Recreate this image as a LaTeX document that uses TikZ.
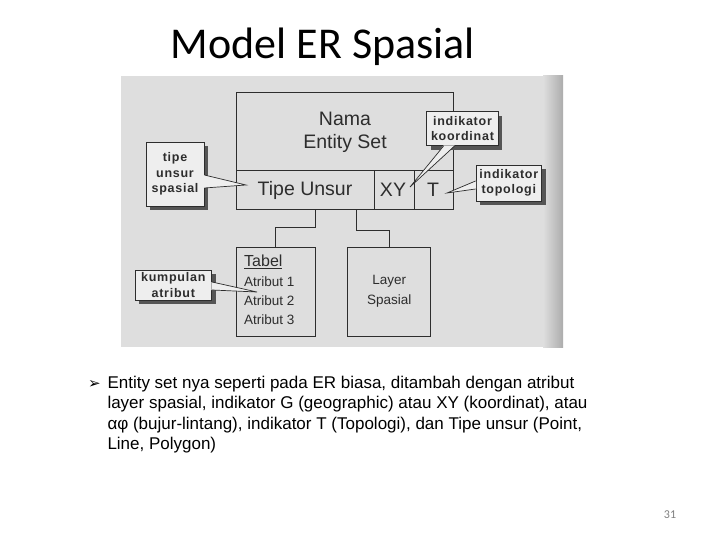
\documentclass[tikz,border=0pt]{standalone}
\usepackage{fontspec}
\setmainfont{Liberation Sans}
\newfontfamily\titlefont{Carlito}
\newfontfamily\symfont{DejaVu Sans}
\newfontfamily\calfont[LetterSpace=6]{Liberation Sans}
\usetikzlibrary{shadows}
\definecolor{scanbg}{RGB}{222,222,222}
\definecolor{scandark}{RGB}{172,172,172}
\definecolor{ink}{RGB}{45,45,45}
\definecolor{calfill}{RGB}{238,238,238}
\definecolor{shadowc}{RGB}{85,85,85}
\definecolor{bodytext}{RGB}{0,0,0}
\tikzset{
  boxline/.style={draw=ink, line width=0.9pt},
  maintext/.style={text=ink, font=\fontsize{19.5}{22}\selectfont, inner sep=0pt},
  smalltext/.style={text=ink, font=\fontsize{13.5}{16}\selectfont, inner sep=0pt},
  callout/.style={draw=ink, line width=0.8pt, fill=calfill, align=center, text=ink,
    font=\calfont\bfseries\fontsize{12.5}{15.5}\selectfont, inner sep=0pt,
    general shadow={fill=shadowc, shadow xshift=4pt, shadow yshift=-4pt}},
  pointer/.style={draw=ink, line width=0.7pt},
  bodyline/.style={anchor=base west, inner sep=0pt, text=bodytext, font=\fontsize{17}{20.5}\selectfont}
}
\begin{document}
\begin{tikzpicture}[x=1pt,y=-1pt]
\useasboundingbox (0,0) rectangle (720,540);
\fill[white] (0,0) rectangle (720,540);

% title
\node[font=\titlefont\fontsize{44}{50}\selectfont, inner sep=0pt] (title) at (323,47) {Model ER Spasial};

% scanned figure background
\fill[scanbg] (121,76) rectangle (563,347);
\shade[left color=scanbg, right color=scandark] (543,76) rectangle (563,347);

% main entity box
\node[boxline, minimum width=216.6pt, minimum height=117pt, inner sep=0pt] (main) at (345,150.8) {};
\draw[ink, line width=0.9pt] (236.7,170.7) -- (453.3,170.7);
\draw[ink, line width=0.9pt] (374,170.7) -- (374,209.3);
\draw[ink, line width=0.9pt] (414,170.7) -- (414,209.3);
\node[maintext] (nama) at (345,118.5) {Nama};
\node[maintext] (eset) at (345,143) {Entity Set};
\node[maintext] (tipe) at (305,190) {Tipe Unsur};
\node[maintext] (xy) at (393,190) {XY};
\node[maintext] (tt) at (433,190) {T};

% lower boxes
\node[boxline, minimum width=78.3pt, minimum height=89pt, inner sep=0pt] (tabel) at (275.85,292.3) {};
\node[boxline, minimum width=83pt, minimum height=89pt, inner sep=0pt] (layer) at (389.2,292.3) {};
\node[smalltext, anchor=west, font=\fontsize{16}{18}\selectfont] (tabt) at (244,261.5) {\underline{Tabel}};
\node[smalltext, anchor=west] (at1) at (244,282) {Atribut 1};
\node[smalltext, anchor=west] (at2) at (244,300.5) {Atribut 2};
\node[smalltext, anchor=west] (at3) at (244,319.5) {Atribut 3};
\node[smalltext] (lay1) at (389.2,281.7) {Layer};
\node[smalltext] (lay2) at (389.2,301) {Spasial};

% connectors
\draw[ink, line width=0.9pt] ([xshift=-30pt]main.south) -- ++(0,17.5) -| (tabel.north);
\draw[ink, line width=0.9pt] ([xshift=11.7pt]main.south) -- ++(0,20.7) -| (layer.north);

% callout: tipe unsur spasial
\node[callout, minimum width=58pt, minimum height=64pt] (c1) at (175,174) {tipe\\unsur\\spasial};
\coordinate (c1tip) at (246,185);
\fill[calfill] ([yshift=-1pt,xshift=-0.6pt]c1.east) -- (c1tip) -- ([yshift=-14pt,xshift=-0.6pt]c1.east) -- cycle;
\draw[pointer] ([yshift=-1pt]c1.east) -- (c1tip) -- ([yshift=-14pt]c1.east);

% callout: indikator koordinat
\node[callout, minimum width=71.6pt, minimum height=34pt] (c2) at (462.5,128.7) {indikator\\koordinat};
\coordinate (c2tip) at (410,187);
\fill[calfill] ([xshift=-19pt,yshift=0.6pt]c2.south) -- (c2tip) -- ([xshift=-8pt,yshift=0.6pt]c2.south) -- cycle;
\draw[pointer] ([xshift=-19pt]c2.south) -- (c2tip) -- ([xshift=-8pt]c2.south);

% callout: indikator topologi
\node[callout, minimum width=65.7pt, minimum height=36pt] (c3) at (508.8,183) {indikator\\topologi};
\coordinate (c3tip) at (447,193);
\fill[calfill] ([yshift=2pt,xshift=0.6pt]c3.west) -- (c3tip) -- ([yshift=-6pt,xshift=0.6pt]c3.west) -- cycle;
\draw[pointer] ([yshift=2pt]c3.west) -- (c3tip) -- ([yshift=-6pt]c3.west);

% callout: kumpulan atribut
\node[callout, minimum width=76.7pt, minimum height=30pt] (c4) at (173.3,285) {kumpulan\\atribut};
\coordinate (c4tip) at (257,292);
\fill[calfill] ([yshift=3pt,xshift=-0.6pt]c4.east) -- (c4tip) -- ([yshift=-5pt,xshift=-0.6pt]c4.east) -- cycle;
\draw[pointer] ([yshift=3pt]c4.east) -- (c4tip) -- ([yshift=-5pt]c4.east);

% bullet text
\node[anchor=base west, inner sep=0pt, font=\symfont\fontsize{15}{17}\selectfont] (bul) at (88,388) {➢};
\node[bodyline] (l1) at (107.3,388) {Entity set nya seperti pada ER biasa, ditambah dengan atribut};
\node[bodyline] (l2) at (107.3,408.5) {layer spasial, indikator G (geographic) atau XY (koordinat), atau};
\node[bodyline] (l3) at (107.3,429) {αφ (bujur-lintang), indikator T (Topologi), dan Tipe unsur (Point,};
\node[bodyline] (l4) at (107.3,449.5) {Line, Polygon)};

% page number
\node[font=\titlefont\fontsize{12}{14}\selectfont, text=gray, inner sep=0pt] (pg) at (670,515) {31};
\end{tikzpicture}
\end{document}
